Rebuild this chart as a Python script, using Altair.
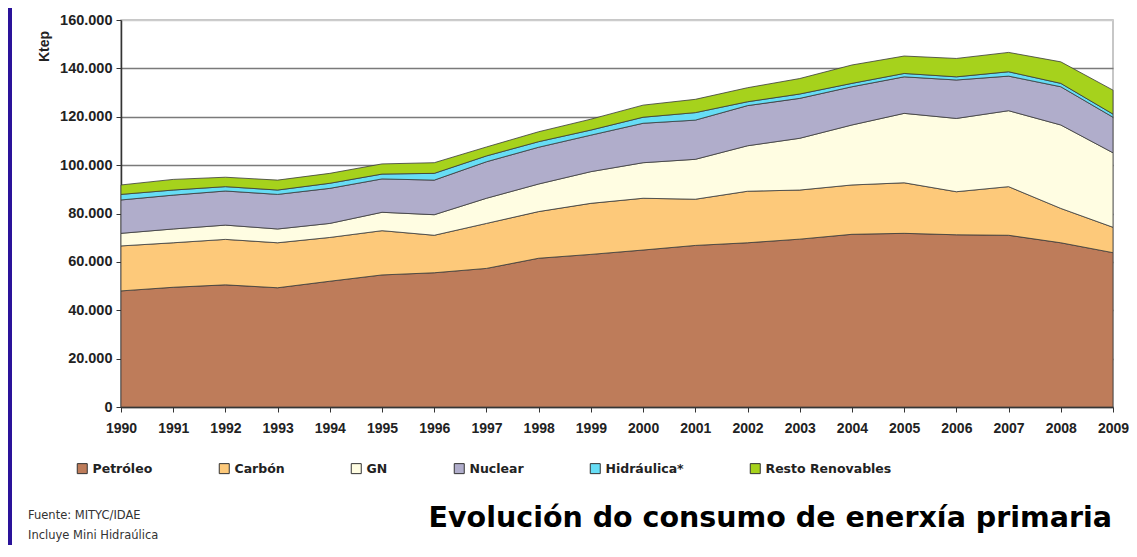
import altair as alt
import pandas as pd

years = list(range(1990, 2010))
petroleo = [48000, 49500, 50500, 49300, 52000, 54600, 55500, 57300, 61500, 63100,
            64900, 66800, 67900, 69400, 71400, 71800, 71200, 71000, 67900, 63800]
carbon = [18600, 18400, 18800, 18600, 18100, 18300, 15500, 18600, 19300, 21100,
          21400, 19100, 21300, 20300, 20400, 20900, 17800, 20100, 14200, 10500]
gn = [5200, 5700, 5900, 5700, 5800, 7600, 8500, 10400, 11400, 13100,
      14700, 16500, 18800, 21400, 24800, 28700, 30300, 31400, 34500, 30800]
nuclear = [13800, 14000, 14100, 14300, 14500, 13800, 14300, 15100, 15200, 15100,
           16300, 16200, 16600, 16500, 15800, 15100, 15900, 14300, 15800, 14700]
hidraulica = [2300, 2100, 1800, 1800, 2100, 2000, 2800, 2400, 2300, 2100,
              2500, 3100, 1600, 1800, 1400, 1400, 1300, 1800, 1400, 1300]
renovables = [3900, 4400, 3900, 4100, 4100, 4200, 4400, 3700, 4100, 4500,
              5000, 5500, 5800, 6400, 7600, 7200, 7600, 8000, 8900, 9900]

series_names = ["Petróleo", "Carbón", "GN", "Nuclear", "Hidráulica*", "Resto Renovables"]
series_colors = ["#BE7C5A", "#FDC97A", "#FFFDE2", "#B0ADCB", "#66DDF5", "#A6D21C"]
series_values = [petroleo, carbon, gn, nuclear, hidraulica, renovables]
y_ticks = [0, 20000, 40000, 60000, 80000, 100000, 120000, 140000, 160000]

rows = []
for i, (name, vals) in enumerate(zip(series_names, series_values)):
    for yr, v in zip(years, vals):
        rows.append({"year": yr, "fuente": name, "valor": v, "orden": i})
df = pd.DataFrame(rows)

AX_FONT = "Liberation Sans"
LEG_FONT = "DejaVu Sans"

areas = alt.Chart(df).mark_area(stroke="#3a3a3a", strokeWidth=0.8, opacity=1).encode(
    x=alt.X("year:Q",
            scale=alt.Scale(domain=[1990, 2009], nice=False, zero=False),
            axis=alt.Axis(values=years, format="d", title=None, grid=False,
                          labelFont=AX_FONT, labelFontSize=14, labelFontWeight="bold",
                          labelColor="#222", labelPadding=9, tickSize=5,
                          tickColor="#333", domainColor="#333", domainWidth=1.5,
                          labelFlush=False)),
    y=alt.Y("valor:Q", stack="zero",
            scale=alt.Scale(domain=[0, 160000], nice=False),
            axis=alt.Axis(values=y_ticks, title="Ktep",
                          labelExpr="replace(format(datum.value, ','), ',', '.')",
                          labelFont=AX_FONT, labelFontSize=14.5, labelFontWeight="bold",
                          labelColor="#222", labelPadding=4, tickSize=5,
                          tickColor="#333", domainColor="#333", domainWidth=1.5,
                          gridColor={"condition": {"test": "datum.value === 160000", "value": "#cccccc"},
                                     "value": "#7a7a7a"},
                          gridWidth=1.6,
                          titleFont=AX_FONT, titleFontSize=14, titleFontWeight="bold",
                          titleColor="#222", titleAngle=270, titleX=-77, titleY=26,
                          titleAlign="center", titleBaseline="middle")),
    color=alt.Color("fuente:N",
                    scale=alt.Scale(domain=series_names, range=series_colors),
                    legend=alt.Legend(title=None, orient="none", legendX=-45, legendY=442,
                                      direction="horizontal", symbolType="square",
                                      symbolSize=100, symbolStrokeColor="#333",
                                      symbolStrokeWidth=1, symbolOpacity=1,
                                      labelFont=LEG_FONT, labelFontSize=12.5,
                                      labelFontWeight="bold", labelColor="#222",
                                      labelOffset=4, columnPadding=64)),
    order=alt.Order("orden:Q", sort="ascending"),
)

notes = pd.DataFrame({
    "texto": ["Fuente: MITYC/IDAE", "Incluye Mini Hidraúlica"],
    "fila": [0, 1],
})
note1 = alt.Chart(notes).transform_filter("datum.fila == 0").mark_text(
    align="left", baseline="middle", font=LEG_FONT, fontSize=11.5, color="#333"
).encode(text="texto:N", x=alt.value(-93), y=alt.value(496))
note2 = alt.Chart(notes).transform_filter("datum.fila == 1").mark_text(
    align="left", baseline="middle", font=LEG_FONT, fontSize=11.5, color="#333"
).encode(text="texto:N", x=alt.value(-93), y=alt.value(516))

title_df = pd.DataFrame({"texto": ["Evolución do consumo de enerxía primaria"]})
title = alt.Chart(title_df).mark_text(
    align="right", baseline="middle", font=LEG_FONT, fontSize=28.5,
    fontWeight="bold", color="#000"
).encode(text="texto:N", x=alt.value(991), y=alt.value(498))

edge = alt.Chart(title_df).mark_rect(color="#2A139A", clip=False).encode(
    x=alt.value(-113), x2=alt.value(-109), y=alt.value(-12), y2=alt.value(530)
)

chart = alt.layer(areas, note1, note2, title, edge).properties(
    width=992, height=387,
    autosize=alt.AutoSizeParams(type="none"),
    padding={"left": 113, "top": 12, "right": 16, "bottom": 138},
    background="white",
).configure_view(stroke="#b5b5b5", strokeWidth=1.5)

chart.save("out.html", embed_options={"renderer": "svg", "actions": False})
